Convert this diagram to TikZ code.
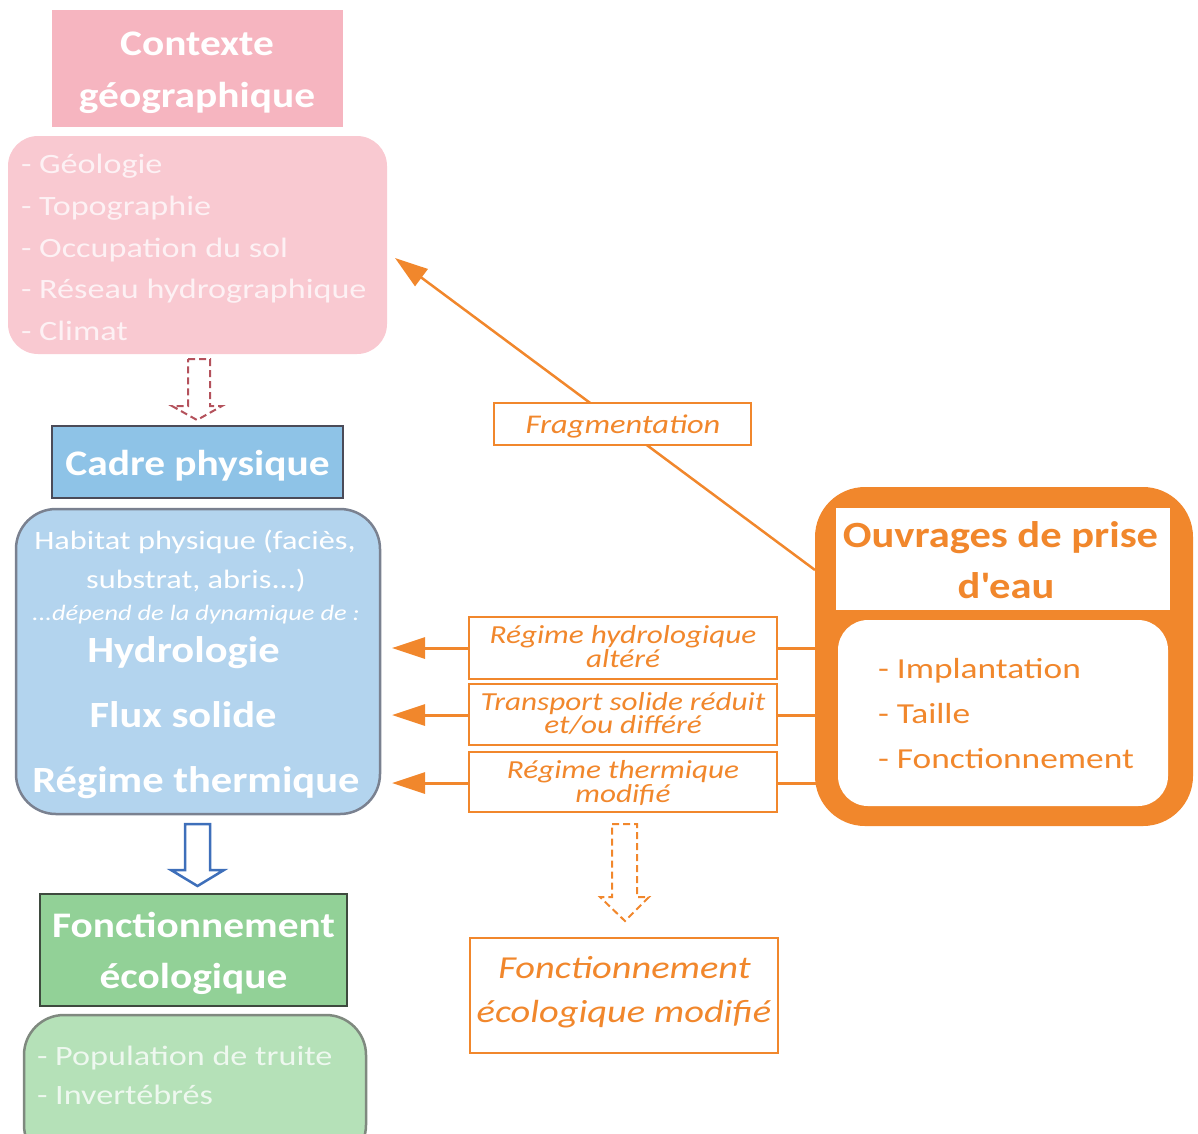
\documentclass[tikz,border=0pt]{standalone}
\usepackage{fontspec}
\setmainfont{Carlito}[FakeStretch=1.22,BoldFeatures={FakeStretch=1.15},ItalicFeatures={FakeStretch=1.2}]
\usetikzlibrary{arrows.meta,backgrounds}
\definecolor{pinkhead}{HTML}{F6B5C0}
\definecolor{pinkbox}{HTML}{F9C9D1}
\definecolor{pinktxt}{HTML}{FDF1F4}
\definecolor{bluehead}{HTML}{8EC3E7}
\definecolor{bluebox}{HTML}{B3D4EE}
\definecolor{greenhead}{HTML}{92D197}
\definecolor{greenbox}{HTML}{B5E1B8}
\definecolor{greentxt}{HTML}{EEF8EF}
\definecolor{orng}{HTML}{F1872C}
\definecolor{darkred}{HTML}{B4525C}
\definecolor{arrblue}{HTML}{3E6FBA}
\definecolor{hdborder}{HTML}{4B4B58}
\definecolor{bxborder}{HTML}{7A8190}
\definecolor{grborder}{HTML}{3E4A3E}
\definecolor{gbborder}{HTML}{7F897F}
\begin{document}
\begin{tikzpicture}[x=1pt,y=-1pt,
  every node/.style={inner sep=0pt,outer sep=0pt},
  boxnode/.style={rectangle,minimum width=#1},
  txt/.style={anchor=base},
  hdtxt/.style={anchor=base,text=white,font=\bfseries\fontsize{36}{44}\selectfont},
  lbl/.style={draw=orng,line width=2.5pt,fill=white,minimum width=308,minimum height=#1},
  lbltxt/.style={anchor=base,text=orng,font=\itshape\fontsize{26}{30}\selectfont},
  conn/.style={draw=orng,line width=3pt,-{Triangle[length=33pt,width=21pt]}}
]
\useasboundingbox (0,0) rectangle (1198,1133);
\clip (0,0) rectangle (1198,1133);

% ---- left column ----
\node[boxnode=291,fill=pinkhead,minimum height=117] (ctx) at (197.5,68.5) {};
\node[hdtxt] (ctx1) at (197,55) {Contexte};
\node[hdtxt] (ctx2) at (197,107) {géographique};

\node[boxnode=379,fill=pinkbox,rounded corners=30pt,minimum height=218] (geo) at (197.5,245) {};
\foreach \t/\yy [count=\i] in {Géologie/173,Topographie/215,Occupation du sol/257,Réseau hydrographique/298,Climat/340}
  \node[anchor=base west,text=pinktxt,font=\fontsize{28}{34}\selectfont] (geo\i) at (21,\yy) {- \t};

\node[boxnode=291,fill=bluehead,draw=hdborder,line width=2.5pt,minimum height=72] (cadre) at (197.5,462) {};
\node[hdtxt] (cadret) at (197.5,475) {Cadre physique};

\node[boxnode=364,fill=bluebox,draw=bxborder,line width=2.5pt,rounded corners=40pt,minimum height=305] (phys) at (198,661.5) {};
\node[txt,text=white,font=\fontsize{26.5}{32}\selectfont] (hab1) at (195,549) {Habitat physique (faciès,};
\node[txt,text=white,font=\fontsize{26.5}{32}\selectfont] (hab2) at (196,588) {substrat, abris...)};
\node[txt,text=white,font=\itshape\fontsize{22}{26}\selectfont] (dep) at (196,620) {...dépend de la dynamique de :};
\node[hdtxt,font=\bfseries\fontsize{37}{44}\selectfont] (hydro) at (183.5,662) {Hydrologie};
\node[hdtxt,font=\bfseries\fontsize{37}{44}\selectfont] (flux) at (183,727) {Flux solide};
\node[hdtxt,font=\bfseries\fontsize{37}{44}\selectfont] (therm) at (196,792) {Régime thermique};

\node[boxnode=307,fill=greenhead,draw=grborder,line width=2.5pt,minimum height=112] (eco) at (193.5,950) {};
\node[hdtxt] (eco1) at (193.5,937) {Fonctionnement};
\node[hdtxt] (eco2) at (193.5,988) {écologique};

\node[boxnode=342,fill=greenbox,draw=gbborder,line width=2.5pt,rounded corners=40pt,minimum height=150] (bio) at (195,1090) {};
\node[anchor=base west,text=greentxt,font=\fontsize{28}{34}\selectfont] (bio1) at (37,1065) {- Population de truite};
\node[anchor=base west,text=greentxt,font=\fontsize{28}{34}\selectfont] (bio2) at (37,1104) {- Invertébrés};

% ---- right : ouvrages ----
\node[boxnode=378,fill=orng,rounded corners=50pt,minimum height=339] (ouv) at (1004,656.5) {};
\node[boxnode=334,fill=white,minimum height=102] (ouvt) at (1003,559) {};
\node[anchor=base,text=orng,font=\bfseries\fontsize{37}{44}\selectfont] (ouv1) at (1000.5,547) {Ouvrages de prise};
\node[anchor=base,text=orng,font=\bfseries\fontsize{37}{44}\selectfont] (ouv2) at (1006,598) {d\textquotesingle eau};
\node[boxnode=330,fill=white,rounded corners=30pt,minimum height=186] (ouvl) at (1003,713) {};
\foreach \t/\yy [count=\i] in {Implantation/678,Taille/723,Fonctionnement/768}
  \node[anchor=base west,text=orng,font=\fontsize{29}{34}\selectfont] (ouvl\i) at (878,\yy) {- \t};

% ---- labels ----
\node[lbl=42,minimum width=257] (frag) at (622.5,424) {};
\node[lbltxt,font=\itshape\fontsize{27}{30}\selectfont] (fragt) at (623,433) {Fragmentation};

\node[lbl=62] (lab1) at (623,648) {};
\node[lbltxt] (lab1a) at (623,643) {Régime hydrologique};
\node[lbltxt] (lab1b) at (623,667) {altéré};
\node[lbl=61] (lab2) at (623,714.5) {};
\node[lbltxt] (lab2a) at (623,710) {Transport solide réduit};
\node[lbltxt] (lab2b) at (623,733) {et/ou différé};
\node[lbl=60] (lab3) at (623,782) {};
\node[lbltxt] (lab3a) at (623,778) {Régime thermique};
\node[lbltxt] (lab3b) at (623,802) {modifié};

\node[lbl=115] (ecomod) at (624,995.5) {};
\node[lbltxt,font=\itshape\fontsize{32}{36}\selectfont] (ecomod1) at (624.5,978) {Fonctionnement};
\node[lbltxt,font=\itshape\fontsize{32}{36}\selectfont] (ecomod2) at (624,1022) {écologique modifié};

% ---- connectors ----
\coordinate (tipf) at (395,258);
\coordinate (tip1) at (392,648);
\coordinate (tip2) at (392,715);
\coordinate (tip3) at (392,783);
\begin{pgfonlayer}{background}
\draw[conn,line width=2.5pt] (ouv.west |- 0,570) -- (tipf);
\draw[conn] (ouv.west |- lab1) -- (tip1);
\draw[conn] (ouv.west |- tip2) -- (tip2);
\draw[conn] (ouv.west |- tip3) -- ++(2,0) -- (tip3);
\end{pgfonlayer}

% block arrows
\draw[darkred,line width=2pt,dash pattern=on 7pt off 4pt,line join=miter]
  (188,359) -- (210,359) -- (210,406) -- (222,406) -- (197,420) -- (172,406) -- (188,406) -- cycle;
\draw[arrblue,line width=2.5pt,line join=miter]
  (185,824) -- (210,824) -- (210,870) -- (224,870) -- (197.5,886) -- (171,870) -- (185,870) -- cycle;
\draw[orng,line width=2pt,dash pattern=on 7pt off 4pt,line join=miter]
  (612,824) -- (637,824) -- (637,897) -- (649,897) -- (625,921) -- (600,897) -- (612,897) -- cycle;
\end{tikzpicture}
\end{document}
